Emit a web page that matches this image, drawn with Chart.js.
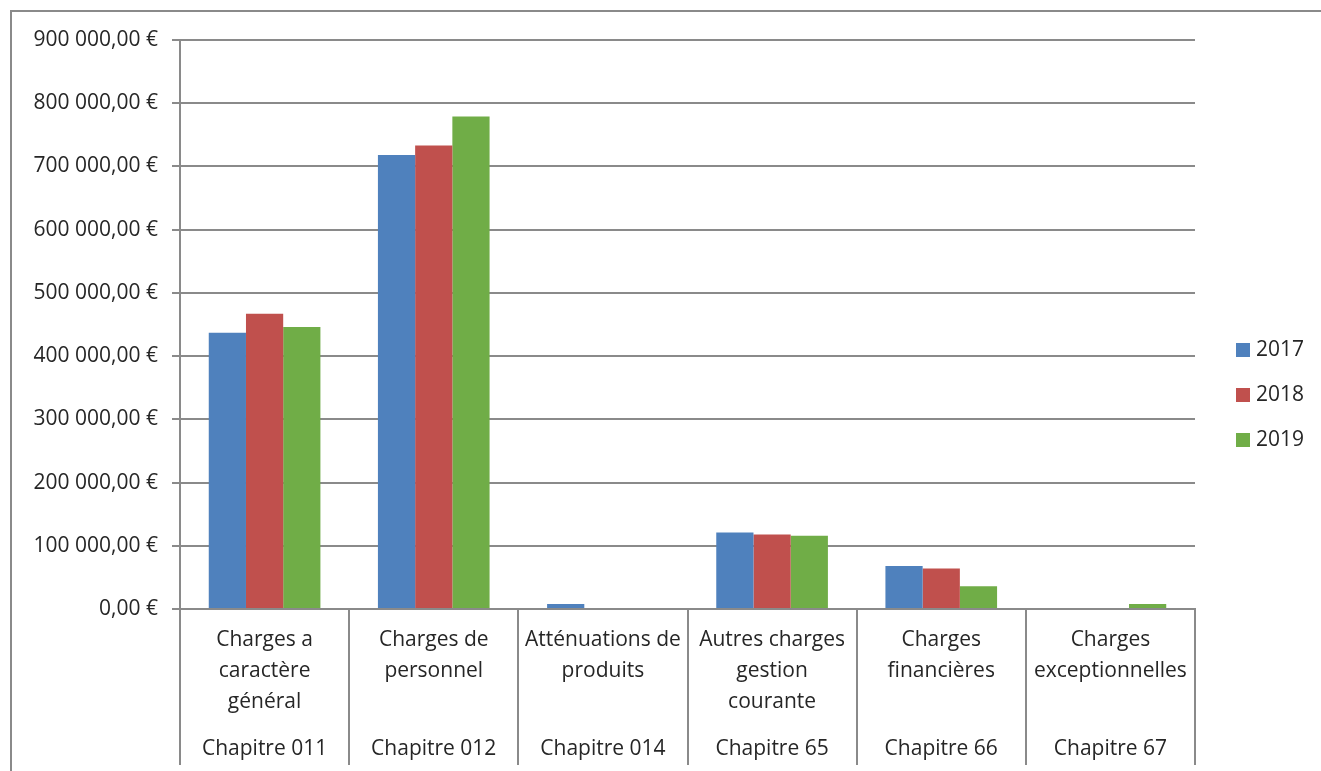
<!DOCTYPE html>
<html>
<head>
<meta charset="utf-8">
<script src="https://cdn.jsdelivr.net/npm/chart.js@4"></script>
<style>
  html, body { margin: 0; padding: 0; background: #fff; }
</style>
</head>
<body>
<canvas id="myChart" width="1321" height="771"></canvas>
<script>
// data
const categories = [
  ["Charges a", "caractère", "général"],
  ["Charges de", "personnel"],
  ["Atténuations de", "produits"],
  ["Autres charges", "gestion", "courante"],
  ["Charges", "financières"],
  ["Charges", "exceptionnelles"]
];
const chapters = ["Chapitre 011", "Chapitre 012", "Chapitre 014", "Chapitre 65", "Chapitre 66", "Chapitre 67"];
const years = ["2017", "2018", "2019"];
const values2017 = [437000, 718000, 8000, 121000, 68000, 0];
const values2018 = [467000, 733000, 0, 118000, 64000, 0];
const values2019 = [446000, 779000, 0, 116000, 36000, 8000];
const yMax = 900000;
const yStep = 100000;
const colors = ["#4F81BD", "#C0504D", "#70AD47"];

const FONT = "'Open Sans', 'Noto Sans', sans-serif";
const FS = 21;
const TEXT = "#262626";
const LINE = "#8a8a8a";

function euro(v) {
  const s = String(Math.round(v)).replace(/\B(?=(\d{3})+(?!\d))/g, " ");
  return s + ",00 €";
}

// frame, category separators, chapter row and legend (Excel look)
const excelBits = {
  id: "excelBits",
  afterDraw(chart) {
    const ctx = chart.ctx;
    const area = chart.chartArea;
    const x = chart.scales.x;
    ctx.save();
    ctx.strokeStyle = LINE;
    ctx.lineWidth = 2;
    // outer frame (left and top visible)
    ctx.beginPath();
    ctx.moveTo(11, 771);
    ctx.lineTo(11, 11);
    ctx.lineTo(1321, 11);
    ctx.stroke();
    // separators below the axis
    const n = categories.length;
    const w = (area.right - area.left) / n;
    ctx.beginPath();
    for (let i = 0; i <= n; i++) {
      const px = Math.round(area.left + i * w);
      ctx.moveTo(px, area.bottom);
      ctx.lineTo(px, 765);
    }
    ctx.stroke();
    // chapter labels
    ctx.fillStyle = TEXT;
    ctx.font = FS + "px " + FONT;
    ctx.textAlign = "center";
    ctx.textBaseline = "middle";
    chapters.forEach((c, i) => {
      ctx.fillText(c, x.getPixelForValue(i), 749);
    });
    // legend
    ctx.textAlign = "left";
    chart.data.datasets.forEach((ds, i) => {
      const cy = 350 + i * 45;
      ctx.fillStyle = ds.backgroundColor;
      ctx.fillRect(1236, cy - 7, 14, 14);
      ctx.fillStyle = TEXT;
      ctx.fillText(ds.label, 1256, cy);
    });
    ctx.restore();
  }
};

const ctx = document.getElementById("myChart");
new Chart(ctx, {
  type: "bar",
  data: {
    labels: categories,
    datasets: [
      { label: years[0], data: values2017, backgroundColor: colors[0] },
      { label: years[1], data: values2018, backgroundColor: colors[1] },
      { label: years[2], data: values2019, backgroundColor: colors[2] }
    ]
  },
  options: {
    responsive: false,
    animation: false,
    layout: { padding: { top: 40, right: 126, bottom: 0, left: 0 } },
    datasets: {
      bar: { categoryPercentage: 0.66, barPercentage: 1.0 }
    },
    plugins: {
      legend: { display: false },
      tooltip: { enabled: false }
    },
    scales: {
      x: {
        grid: { display: false },
        border: { color: LINE, width: 2 },
        ticks: {
          color: TEXT,
          font: { family: FONT, size: FS, lineHeight: 31 / FS },
          padding: 8,
          maxRotation: 0,
          autoSkip: false
        },
        afterFit(scale) { scale.height = 162; }
      },
      y: {
        min: 0,
        max: yMax,
        ticks: {
          stepSize: yStep,
          color: TEXT,
          font: { family: FONT, size: FS },
          padding: 14,
          callback: (v) => euro(v)
        },
        grid: { color: LINE, lineWidth: 2, tickLength: 8 },
        border: { color: LINE, width: 2 },
        afterFit(scale) { scale.width = 180; }
      }
    }
  },
  plugins: [excelBits]
});
</script>
</body>
</html>
